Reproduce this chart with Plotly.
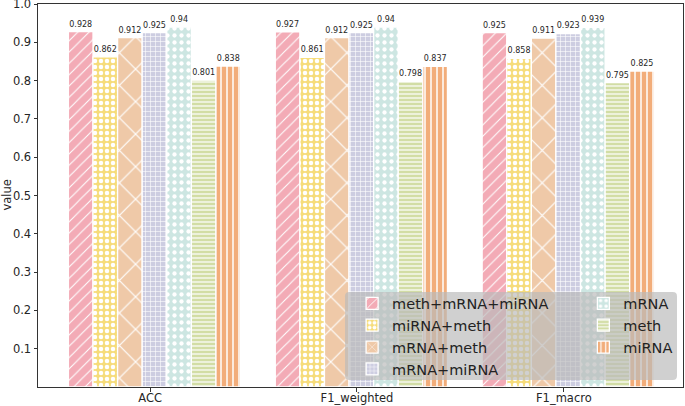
import plotly.graph_objects as go

# ---------------- data ----------------
categories = ["ACC", "F1_weighted", "F1_macro"]
series_names = ["meth+mRNA+miRNA", "miRNA+meth", "mRNA+meth", "mRNA+miRNA", "mRNA", "meth", "miRNA"]
meth_mRNA_miRNA = [0.928, 0.927, 0.925]
miRNA_meth = [0.862, 0.861, 0.858]
mRNA_meth = [0.912, 0.912, 0.911]
mRNA_miRNA = [0.925, 0.925, 0.923]
mRNA_only = [0.94, 0.94, 0.939]
meth_only = [0.801, 0.798, 0.795]
miRNA_only = [0.838, 0.837, 0.825]
y_tick_values = [0.1, 0.2, 0.3, 0.4, 0.5, 0.6, 0.7, 0.8, 0.9, 1.0]
y_tick_labels = ["0.1", "0.2", "0.3", "0.4", "0.5", "0.6", "0.7", "0.8", "0.9", "1.0"]

series_values = [meth_mRNA_miRNA, miRNA_meth, mRNA_meth, mRNA_miRNA, mRNA_only, meth_only, miRNA_only]

# ---------------- styles ----------------
colors = ["#F3ABB6", "#F6DC7A", "#EFC9A8", "#CDCDE1", "#CDE6E2", "#D2DDA5", "#F2AD7A"]
patterns = [
    dict(shape="/", size=8, solidity=0.14),
    dict(shape=".", size=6, solidity=0.45),
    dict(shape="x", size=23, solidity=0.1),
    dict(shape="+", size=5, solidity=0.22),
    dict(shape=".", size=7, solidity=0.3),
    dict(shape="-", size=4, solidity=0.3),
    dict(shape="|", size=6, solidity=0.25),
]
FONT = "DejaVu Sans"
bar_w = 0.1189
bar_start = -0.395
xpos = list(range(len(categories)))

fig = go.Figure()
for i, (name, vals) in enumerate(zip(series_names, series_values)):
    pat = dict(patterns[i])
    pat.update(fgcolor="white", bgcolor=colors[i], fillmode="replace")
    fig.add_trace(go.Bar(
        x=xpos, y=vals, name=name,
        width=bar_w, offset=bar_start + i * bar_w,
        marker=dict(color=colors[i], line=dict(color="white", width=1.3), pattern=pat),
        text=[str(v) for v in vals], textposition="outside",
        textfont=dict(size=8, color="#262626", family=FONT),
        constraintext="none", cliponaxis=False,
        legend="legend" if i < 4 else "legend2",
    ))

# legend background (rounded rectangle, semi-transparent gray)
x0, x1, y0, y1 = 0.476, 0.9907, 0.0183, 0.248
rx, ry = 0.0065, 0.011
path = (f"M{x0+rx},{y0} L{x1-rx},{y0} Q{x1},{y0} {x1},{y0+ry} L{x1},{y1-ry} Q{x1},{y1} {x1-rx},{y1} "
        f"L{x0+rx},{y1} Q{x0},{y1} {x0},{y1-ry} L{x0},{y0+ry} Q{x0},{y0} {x0+rx},{y0} Z")
fig.add_shape(type="path", path=path, xref="paper", yref="paper",
              fillcolor="rgba(185,185,185,0.68)", line=dict(width=0), layer="above")

legend_common = dict(bgcolor="rgba(0,0,0,0)", borderwidth=0, xanchor="left", yanchor="top",
                     font=dict(size=14.5, color="#222222", family=FONT), tracegroupgap=0)
axis_common = dict(showline=True, linecolor="#333333", linewidth=1, mirror=True,
                   ticks="outside", ticklen=3.5, tickcolor="#333333", tickwidth=0.8,
                   tickfont=dict(size=11.5, family=FONT, color="#262626"),
                   showgrid=False, zeroline=False, automargin=False,
                   ticklabeloverflow="allow")
fig.update_layout(
    width=685, height=406,
    margin=dict(l=38, r=2, t=4, b=19),
    paper_bgcolor="white", plot_bgcolor="white",
    barmode="overlay",
    font=dict(family=FONT, color="#262626"),
    showlegend=True,
    legend=dict(x=0.487, y=0.26, **legend_common),
    legend2=dict(x=0.8455, y=0.26, **legend_common),
    xaxis=dict(range=[-0.542, 2.576], tickvals=xpos, ticktext=categories,
               ticklabelstandoff=-3, **axis_common),
    yaxis=dict(range=[0, 1.0], tickvals=y_tick_values, ticktext=y_tick_labels,
               **axis_common),
    annotations=[dict(text="value", xref="paper", yref="paper", x=-0.0496, y=0.5,
                      xanchor="center", yanchor="middle", textangle=-90, showarrow=False,
                      font=dict(size=11.5, family=FONT, color="#262626"))],
)

fig.write_html("out.html", config={"displayModeBar": False},
               post_script="document.body.style.margin='0';document.body.style.padding='0';")
